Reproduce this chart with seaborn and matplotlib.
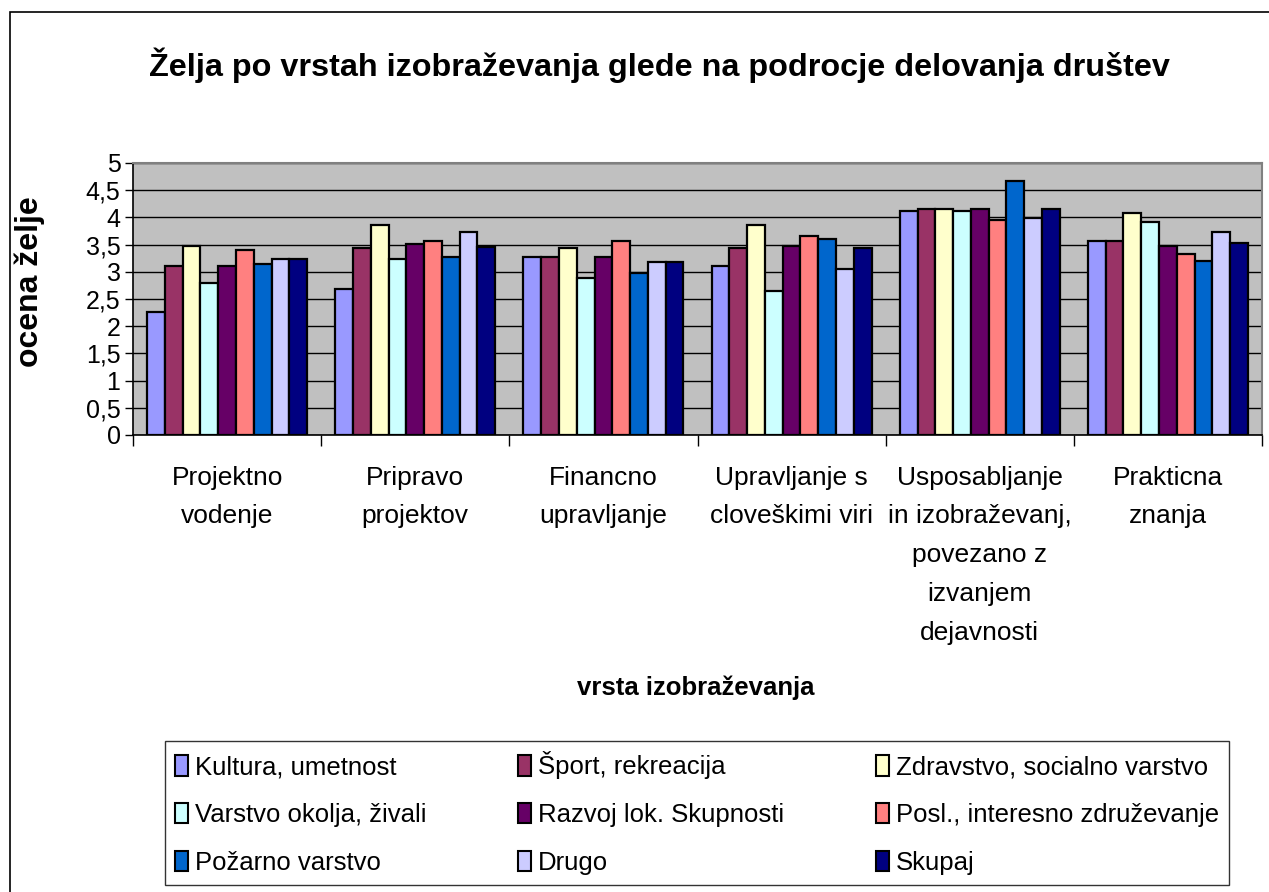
import pandas as pd
import numpy as np
import seaborn as sns
import matplotlib.pyplot as plt
from matplotlib.ticker import FuncFormatter, FixedLocator
from matplotlib.patches import Rectangle

# ==========================================
# DATA
# ==========================================
categories = ["Projektno\nvodenje", "Pripravo\nprojektov", "Financno\nupravljanje",
              "Upravljanje s\ncloveškimi viri",
              "Usposabljanje\nin izobraževanj,\npovezano z\nizvanjem\ndejavnosti",
              "Prakticna\nznanja"]

series_names = ["Kultura, umetnost", "Šport, rekreacija", "Zdravstvo, socialno varstvo",
                "Varstvo okolja, živali", "Razvoj lok. Skupnosti", "Posl., interesno združevanje",
                "Požarno varstvo", "Drugo", "Skupaj"]

kultura = [2.26, 2.68, 3.27, 3.10, 4.12, 3.57]
sport = [3.10, 3.44, 3.27, 3.44, 4.15, 3.57]
zdravstvo = [3.48, 3.86, 3.44, 3.86, 4.15, 4.08]
varstvo = [2.80, 3.23, 2.89, 2.64, 4.12, 3.91]
razvoj = [3.10, 3.52, 3.27, 3.48, 4.15, 3.48]
posl = [3.40, 3.57, 3.57, 3.65, 3.95, 3.32]
pozarno = [3.15, 3.27, 2.98, 3.61, 4.66, 3.19]
drugo = [3.23, 3.74, 3.18, 3.06, 3.99, 3.74]
skupaj = [3.23, 3.45, 3.18, 3.44, 4.15, 3.53]

colors = ["#9999FF", "#993366", "#FFFFCC", "#CCFFFF", "#660066",
          "#FF8080", "#0066CC", "#CCCCFF", "#000080"]

# long-form table for seaborn
all_values = [kultura, sport, zdravstvo, varstvo, razvoj, posl, pozarno, drugo, skupaj]
rows = []
for name, vals in zip(series_names, all_values):
    for cat, v in zip(categories, vals):
        rows.append({"kategorija": cat, "skupina": name, "ocena": v})
df = pd.DataFrame(rows)

# ==========================================
# STYLE
# ==========================================
sns.set_theme(style="white")
plt.rcParams['font.family'] = ['Liberation Sans', 'DejaVu Sans']
plt.rcParams['text.color'] = 'black'
plt.rcParams['axes.labelcolor'] = 'black'
plt.rcParams['xtick.color'] = 'black'
plt.rcParams['ytick.color'] = 'black'

W, H = 1269, 892
fig = plt.figure(figsize=(W / 100, H / 100), dpi=100)
fig.patch.set_facecolor("white")

# plot area in pixel coords
x0, x1, y_top, y_bot = 133, 1262, 163, 435
ax = fig.add_axes([x0 / W, 1 - y_bot / H, (x1 - x0) / W, (y_bot - y_top) / H])
ax.set_facecolor("#C0C0C0")

sns.barplot(data=df, x="kategorija", y="ocena", hue="skupina", palette=colors,
            edgecolor="black", linewidth=1.6, width=0.85, saturation=1,
            errorbar=None, ax=ax)

ax.set_ylim(0, 5)
ax.set_xlim(-0.5, len(categories) - 0.5)
ax.yaxis.set_major_locator(FixedLocator(np.arange(0, 5.01, 0.5)))
ax.yaxis.set_major_formatter(FuncFormatter(lambda v, p: f"{v:g}".replace(".", ",")))
ax.yaxis.grid(True, color="black", linewidth=1)
ax.set_axisbelow(True)

# category boundaries as major ticks, labels as minor ticks
ax.set_xticks(np.arange(-0.5, len(categories), 1.0))
ax.set_xticklabels([])
ax.set_xticks(np.arange(len(categories)), minor=True)
ax.set_xticklabels(categories, minor=True, fontsize=19, linespacing=1.78)
ax.tick_params(axis="x", which="major", direction="out", length=8, width=1, color="black", bottom=True)
ax.tick_params(axis="x", which="minor", length=0, pad=22)
ax.tick_params(axis="y", direction="out", length=6, width=1, color="black", left=True,
               labelsize=18, pad=3)

for side in ["left", "bottom"]:
    ax.spines[side].set_color("black")
    ax.spines[side].set_linewidth(1.2)
for side in ["top", "right"]:
    ax.spines[side].set_color("#808080")
    ax.spines[side].set_linewidth(1.5)

ax.set_xlabel("")
ax.set_ylabel("")

# titles
fig.text(659 / W, 1 - 65 / H, "Želja po vrstah izobraževanja glede na podrocje delovanja društev",
         ha="center", va="center", fontsize=23.3, fontweight="bold")
fig.text(30 / W, 1 - 282 / H, "ocena želje", ha="center", va="center", rotation=90,
         fontsize=23, fontweight="bold")
fig.text(696 / W, 1 - 688 / H, "vrsta izobraževanja", ha="center", va="center",
         fontsize=18.5, fontweight="bold")

# legend: row-wise order like the original
handles, labels = ax.get_legend_handles_labels()
ax.get_legend().remove()
order = [0, 3, 6, 1, 4, 7, 2, 5, 8]
leg = fig.legend([handles[i] for i in order], [labels[i] for i in order],
                 ncol=3, loc="upper left", mode="expand",
                 bbox_to_anchor=(165 / W, 1 - 890 / H, (1229 - 165) / W, (890 - 741) / H),
                 fontsize=18.5, frameon=True, fancybox=False, edgecolor="black",
                 handlelength=0.5, handleheight=0.85, handletextpad=0.25,
                 labelspacing=0.92, borderpad=0.4, borderaxespad=0)
leg.get_frame().set_linewidth(1.0)
for h in leg.legend_handles:
    h.set_edgecolor("black")
    h.set_linewidth(1.5)

# outer chart border
fig.add_artist(Rectangle((10 / W, -0.02), 1.05, 1 - 12 / H + 0.02, transform=fig.transFigure,
                         fill=False, edgecolor="black", linewidth=1.2, clip_on=False))

fig.savefig("out.png", dpi=100)
plt.close()
